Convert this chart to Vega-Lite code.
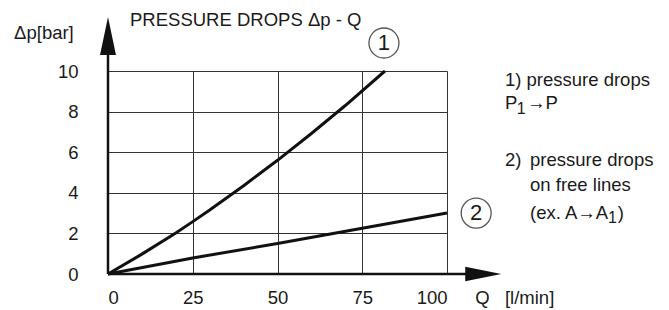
{
  "$schema": "https://vega.github.io/schema/vega-lite/v6.json",
  "width": 339,
  "height": 203,
  "autosize": "none",
  "padding": {"left": 108, "top": 71, "right": 222, "bottom": 36},
  "background": "white",
  "config": {"view": {"stroke": null}, "font": "Liberation Sans", "text": {"font": "Liberation Sans"}},
  "datasets": {
    "curves": [
      {"s": "1", "x": 0, "y": 0},
      {"s": "1", "x": 10, "y": 0.98},
      {"s": "1", "x": 20, "y": 2.02},
      {"s": "1", "x": 25, "y": 2.58},
      {"s": "1", "x": 30, "y": 3.15},
      {"s": "1", "x": 40, "y": 4.35},
      {"s": "1", "x": 50, "y": 5.6},
      {"s": "1", "x": 60, "y": 6.92},
      {"s": "1", "x": 70, "y": 8.3},
      {"s": "1", "x": 81.7, "y": 10},
      {"s": "2", "x": 0, "y": 0},
      {"s": "2", "x": 25, "y": 0.79},
      {"s": "2", "x": 50, "y": 1.5},
      {"s": "2", "x": 75, "y": 2.25},
      {"s": "2", "x": 100, "y": 3.0}
    ],
    "labels": [
      {"s": "1", "x": 81.4, "y": 11.38},
      {"s": "2", "x": 108.6, "y": 3.0}
    ],
    "notes": [
      {"x": 6.5, "y": 12.5, "t": "PRESSURE DROPS Δp - Q"},
      {"x": -27.7, "y": 11.87, "t": "Δp[bar]"},
      {"x": 108.3, "y": -1.18, "t": "Q\u00a0\u00a0\u00a0[l/min]"},
      {"x": 117.1, "y": 9.56, "t": "1) pressure drops"},
      {"x": 117.1, "y": 8.42, "t": "P"},
      {"x": 123.6, "y": 8.42, "t": "→P"},
      {"x": 117.1, "y": 5.62, "t": "2)"},
      {"x": 124.5, "y": 5.62, "t": "pressure drops"},
      {"x": 124.5, "y": 4.38, "t": "on free lines"},
      {"x": 124.5, "y": 3.0, "t": "(ex. A→A"},
      {"x": 150.4, "y": 3.0, "t": ")"}
    ],
    "subs": [
      {"x": 120.6, "y": 8.15, "t": "1"},
      {"x": 147.5, "y": 2.76, "t": "1"}
    ],
    "one": [{}]
  },
  "layer": [
    {
      "data": {"name": "curves"},
      "mark": {"type": "line", "color": "#111", "strokeWidth": 3, "clip": false},
      "encoding": {
        "x": {"field": "x", "type": "quantitative", "scale": {"domain": [0, 100], "nice": false, "zero": false},
          "axis": {"values": [0, 25, 50, 75, 100], "title": null, "domain": false, "ticks": false, "grid": true,
            "gridColor": "#333", "gridWidth": 1, "gridOpacity": 1, "labelFontSize": 18.5, "labelPadding": 14,
            "labelColor": "#1a1a1a", "labelFont": "Liberation Sans", "labelOverlap": false, "labelBound": false}},
        "y": {"field": "y", "type": "quantitative", "scale": {"domain": [0, 10], "nice": false, "zero": false},
          "axis": {"values": [0, 2, 4, 6, 8, 10], "title": null, "domain": false, "ticks": false, "grid": true,
            "gridColor": "#333", "gridWidth": 1, "gridOpacity": 1, "labelFontSize": 18.5, "labelPadding": 30,
            "labelColor": "#1a1a1a", "labelFont": "Liberation Sans", "labelOverlap": false, "labelBound": false}},
        "detail": {"field": "s", "type": "nominal"}
      }
    },
    {
      "data": {"name": "one"},
      "mark": {"type": "rule", "color": "#111", "strokeWidth": 2.5},
      "encoding": {
        "x": {"datum": 0, "type": "quantitative"},
        "y": {"datum": 0, "type": "quantitative"},
        "y2": {"datum": 11}
      }
    },
    {
      "data": {"name": "one"},
      "mark": {"type": "rule", "color": "#111", "strokeWidth": 2.5},
      "encoding": {
        "x": {"datum": 0, "type": "quantitative"},
        "x2": {"datum": 106},
        "y": {"datum": 0, "type": "quantitative"}
      }
    },
    {
      "data": {"name": "one"},
      "mark": {"type": "point", "shape": "M0,-1L0.42,1L-0.42,1Z", "filled": true, "color": "#111", "opacity": 1, "size": 1444},
      "encoding": {
        "x": {"datum": 0, "type": "quantitative"},
        "y": {"datum": 11.73, "type": "quantitative"}
      }
    },
    {
      "data": {"name": "one"},
      "mark": {"type": "point", "shape": "M1,0L-1,0.4L-1,-0.4Z", "filled": true, "color": "#111", "opacity": 1, "size": 1300},
      "encoding": {
        "x": {"datum": 110.7, "type": "quantitative"},
        "y": {"datum": 0, "type": "quantitative"}
      }
    },
    {
      "data": {"name": "labels"},
      "mark": {"type": "point", "shape": "circle", "filled": false, "color": "#555", "strokeWidth": 1.3, "opacity": 1, "size": 900},
      "encoding": {
        "x": {"field": "x", "type": "quantitative"},
        "y": {"field": "y", "type": "quantitative"}
      }
    },
    {
      "data": {"name": "labels"},
      "mark": {"type": "text", "fontSize": 22, "color": "#1a1a1a", "baseline": "middle", "align": "center", "font": "Liberation Sans"},
      "encoding": {
        "x": {"field": "x", "type": "quantitative"},
        "y": {"field": "y", "type": "quantitative"},
        "text": {"field": "s"}
      }
    },
    {
      "data": {"name": "notes"},
      "mark": {"type": "text", "fontSize": 18.5, "color": "#1a1a1a", "baseline": "middle", "align": "left", "font": "Liberation Sans"},
      "encoding": {
        "x": {"field": "x", "type": "quantitative"},
        "y": {"field": "y", "type": "quantitative"},
        "text": {"field": "t"}
      }
    },
    {
      "data": {"name": "subs"},
      "mark": {"type": "text", "fontSize": 16, "color": "#1a1a1a", "baseline": "middle", "align": "left", "font": "Liberation Sans"},
      "encoding": {
        "x": {"field": "x", "type": "quantitative"},
        "y": {"field": "y", "type": "quantitative"},
        "text": {"field": "t"}
      }
    }
  ]
}
